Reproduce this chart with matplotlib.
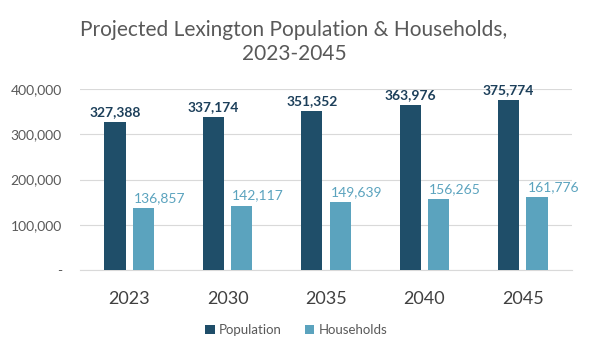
import numpy as np
import matplotlib.pyplot as plt
from matplotlib.ticker import FuncFormatter

years = ['2023', '2030', '2035', '2040', '2045']
population = [327388, 337174, 351352, 363976, 375774]
households = [136857, 142117, 149639, 156265, 161776]

pop_color = '#1f4e69'
hh_color = '#5ba3be'

plt.rcParams['font.family'] = ['Lato', 'DejaVu Sans']

fig = plt.figure(figsize=(5.96, 3.57), dpi=100)
ax = fig.add_axes([80 / 596, 1 - 270 / 357, 492 / 596, 181 / 357])

x = np.arange(len(years))
w = 0.215
off = 0.145
b1 = ax.bar(x - off, population, w, color=pop_color, label='Population', zorder=3)
b2 = ax.bar(x + off, households, w, color=hh_color, label='Households', zorder=3)

for rect, v in zip(b1, population):
    ax.text(rect.get_x() + rect.get_width() / 2, v + 9000, f'{v:,}', ha='center', va='bottom',
            fontsize=10, fontweight='bold', color='#1c3f5a')
for rect, v in zip(b2, households):
    ax.text(rect.get_x() + 0.01, v + 9000, f'{v:,}', ha='left', va='bottom',
            fontsize=10, color=hh_color)

ax.set_xlim(-0.5, 4.5)
ax.set_ylim(0, 400000)
ax.set_yticks([0, 100000, 200000, 300000, 400000])
ax.yaxis.set_major_formatter(FuncFormatter(lambda v, p: '-' if v == 0 else f'{int(v):,}'))
ax.set_xticks(x)
ax.set_xticklabels(years, fontsize=13, color='#404040')
ax.tick_params(axis='y', labelsize=10, labelcolor='#595959', length=0, pad=13)
ax.tick_params(axis='x', length=0, pad=15)
ax.grid(axis='y', color='#d9d9d9', lw=0.8, zorder=0)
for s in ['top', 'right', 'left']:
    ax.spines[s].set_visible(False)
ax.spines['bottom'].set_color('#d9d9d9')

fig.text(0.493, 0.945, 'Projected Lexington Population & Households,\n2023-2045', ha='center', va='top',
         fontsize=15, color='#595959', linespacing=1.25)

fig.legend(handles=[b1, b2], loc='center', bbox_to_anchor=(0.497, 1 - 330 / 357), ncol=2, frameon=False,
           fontsize=9.5, handlelength=0.7, handleheight=0.7, handletextpad=0.3, columnspacing=1.8,
           labelcolor='#595959')

fig.savefig('out.png', dpi=100)
